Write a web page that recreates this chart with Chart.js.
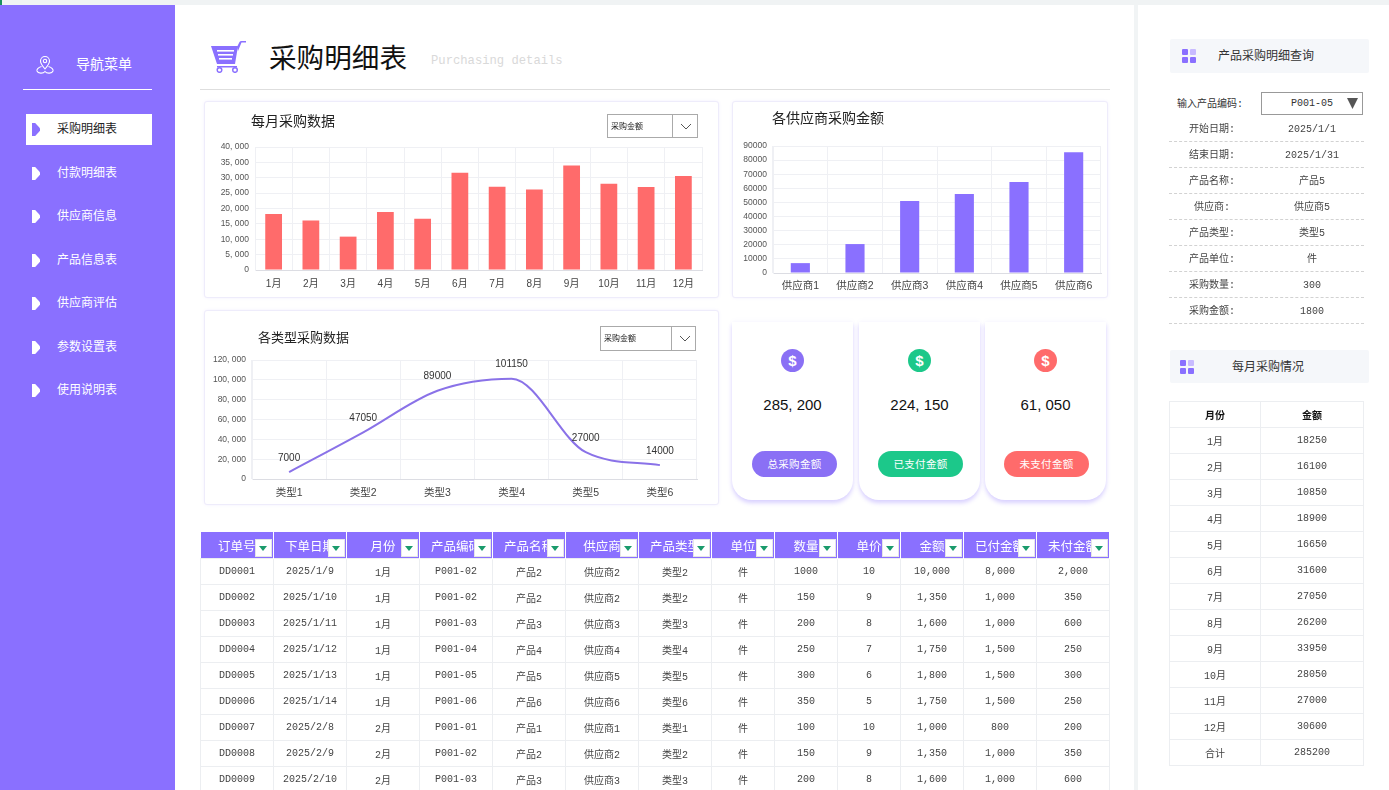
<!DOCTYPE html>
<html lang="zh">
<head>
<meta charset="utf-8">
<title>采购明细表</title>
<script src="https://cdn.jsdelivr.net/npm/chart.js@4"></script>
<style>
html, body { margin: 0; padding: 0; width: 1389px; height: 790px; overflow: hidden; background: #fff; }
body { position: relative; font-family: "Liberation Sans", "Noto Sans CJK SC", sans-serif; color: #222; }
.abs, .card, .stat, .pill, .nav, .dd, .ph, .qrow { position: absolute; }
.topstrip { left: 0; top: 0; width: 1389px; height: 5px; background: #f0f3f4; }
.mark { left: 0; top: 0; width: 2px; height: 7px; background: #1a8f5f; }
.sidebar { left: 0; top: 5px; width: 175px; height: 785px; background: #8a70ff; }
.vstrip { left: 1134px; top: 5px; width: 4px; height: 785px; background: #f1f4f5; }
.nav { left: 26px; width: 126px; height: 31px; line-height: 31px; font-size: 12px; color: #fff; text-indent: 31px; }
.nav.on { background: #fff; color: #222; }
.nav i { position: absolute; left: 6px; top: 9px; width: 8px; height: 13px; background: #fff; clip-path: polygon(0 0, 40% 0, 100% 40%, 100% 60%, 40% 100%, 0 100%); }
.nav.on i { background: #8a70ff; }
.card { background: #fff; border: 1px solid #eeecfb; border-radius: 3px; box-sizing: border-box; box-shadow: 0 0 3px rgba(138,112,255,.10); }
.card canvas { position: absolute; left: 0; top: 0; }
.ctitle { position: absolute; font-size: 14px; color: #222; white-space: nowrap; }
.dd { box-sizing: border-box; border: 1px solid #aaa; background: #fff; font-size: 8px; color: #222; }
.dd span { position: absolute; left: 3px; top: 0; line-height: 23px; }
.dd b { position: absolute; top: 0; bottom: 0; width: 0; border-left: 1px solid #aaa; }
.dd svg { position: absolute; top: 8px; }
.stat { top: 322px; width: 121px; height: 178px; background: #fff; border-radius: 0 0 20px 20px; box-shadow: 0 3px 4px rgba(138,112,255,.32), 0 -2px 4px rgba(138,112,255,.03); }
.stat .coin { position: absolute; left: 49px; top: 27px; width: 23px; height: 23px; border-radius: 50%; color: #fff; font: bold 15px/23px "Liberation Sans"; text-align: center; }
.stat .num { position: absolute; left: 0; width: 121px; top: 74px; text-align: center; font-size: 15px; color: #111; }
.stat .pill { top: 129px; width: 85px; height: 26px; line-height: 26px; border-radius: 13px; color: #fff; font-size: 10.5px; text-align: center; letter-spacing: .3px; }
table { border-collapse: collapse; table-layout: fixed; will-change: transform; }
#detail { position: absolute; left: 200px; top: 532px; width: 909px; font: 10px "Liberation Mono", "Noto Sans CJK SC", monospace; color: #444; }
#detail th { position: relative; height: 26px; padding: 0; background: #8a70ff; color: #fff; font: normal 12.5px "Noto Sans CJK SC", sans-serif; border-right: 1px solid #fff; overflow: hidden; white-space: nowrap; }
#detail th u { position: absolute; right: 1px; top: 7px; width: 17px; height: 18px; background: #fff; border: 1px solid #e6e6e6; box-sizing: border-box; text-decoration: none; }
#detail th u:after { content: ""; position: absolute; left: 3px; top: 6px; border: 4.5px solid transparent; border-top: 5px solid #1a9b6c; border-bottom: 0; }
#detail td { height: 25px; padding: 0; text-align: center; border: 1px solid #eceef1; white-space: nowrap; }
.ph { left: 1170px; width: 199px; height: 34px; line-height: 34px; background: #f5f7fa; font-size: 12px; color: #333; border-radius: 2px; }
.ph span { position: absolute; top: 0; white-space: nowrap; }
.ph svg { position: absolute; top: 10px; }
.qrow { left: 1169px; width: 195px; height: 26px; border-bottom: 1px dashed #d2d2d2; box-sizing: border-box; font: 10px/28px "Liberation Mono", "Noto Sans CJK SC", monospace; color: #444; will-change: transform; }
.qrow span { position: absolute; top: 0; transform: translateX(-50%); white-space: nowrap; }
#months { position: absolute; left: 1169px; top: 401px; width: 194px; font: 10px "Liberation Mono", "Noto Sans CJK SC", monospace; color: #444; }
#months td, #months th { height: 25px; padding: 0; text-align: center; border: 1px solid #eceef1; }
#months th { font-weight: bold; color: #111; }
</style>
</head>
<body>
<div class="abs topstrip"></div>
<div class="abs mark"></div>
<div class="abs sidebar"></div>
<div class="abs vstrip"></div>

<svg class="abs" style="left:35px;top:55px" width="20" height="20" viewBox="0 0 20 20" fill="none" stroke="#fff" stroke-width="1.1">
  <path d="M10 14 C7 10.5 5.5 8.5 5.5 6 A4.5 4.5 0 0 1 14.5 6 C14.5 8.5 13 10.5 10 14 Z"/>
  <circle cx="10" cy="6" r="1.7"/>
  <path d="M6.5 11.5 C3 12.5 1.5 14.5 2 16 C3 18.5 8 19 10 16.5 C12 19 17 18.5 18 16 C18.5 14.5 17 12.5 13.5 11.5"/>
</svg>
<div class="abs" style="left:76px;top:55px;font-size:14px;color:#fff;line-height:19px">导航菜单</div>
<div class="abs" style="left:23px;top:89px;width:129px;height:1px;background:#fff"></div>
<div id="navList"></div>

<svg class="abs" style="left:211px;top:40px" width="36" height="33" viewBox="0 0 36 33" fill="#8a70ff">
  <path d="M0 6 H27 L24 24 H6 Z"/>
  <path d="M26 7 L28.5 2 Q29 1 30.5 1 H35 V2.6 H30.5 L27 11 Z"/>
  <rect x="6" y="10" width="17" height="1.6" fill="#fff"/><rect x="7" y="14" width="15" height="1.6" fill="#fff"/><rect x="8" y="18" width="13" height="1.6" fill="#fff"/>
  <rect x="6" y="26" width="20" height="1.5"/>
  <circle cx="8.5" cy="30" r="2.3" fill="#fff" stroke="#8a70ff" stroke-width="1.5"/><circle cx="24" cy="30" r="2.3" fill="#fff" stroke="#8a70ff" stroke-width="1.5"/>
</svg>
<div class="abs" style="left:269px;top:39px;font-size:27.6px;line-height:40px;color:#111">采购明细表</div>
<div class="abs" style="left:431px;top:53px;font:12.2px/16px 'Liberation Mono',monospace;color:#d9d9d9">Purchasing details</div>
<div class="abs" style="left:200px;top:89px;width:910px;height:1px;background:#dedede"></div>

<div class="card" style="left:204px;top:101px;width:515px;height:197px">
  <canvas id="monthChart"></canvas>
  <div class="ctitle" style="left:46px;top:8px">每月采购数据</div>
</div>
<div class="dd" style="left:607px;top:114px;width:91px;height:24px"><span>采购金额</span><b style="left:64px"></b>
  <svg style="left:72px" width="12" height="8" viewBox="0 0 12 8" fill="none" stroke="#555"><path d="M1 1 L6 6 L11 1"/></svg></div>

<div class="card" style="left:732px;top:101px;width:376px;height:197px">
  <canvas id="supplierChart"></canvas>
  <div class="ctitle" style="left:39px;top:5px">各供应商采购金额</div>
</div>

<div class="card" style="left:204px;top:310px;width:515px;height:195px">
  <canvas id="typeChart"></canvas>
  <div class="ctitle" style="left:53px;top:16px;font-size:13px">各类型采购数据</div>
</div>
<div class="dd" style="left:600px;top:326px;width:96px;height:25px"><span>采购金额</span><b style="left:70px"></b>
  <svg style="left:78px" width="12" height="8" viewBox="0 0 12 8" fill="none" stroke="#555"><path d="M1 1 L6 6 L11 1"/></svg></div>

<div id="stats"></div>

<table id="detail"></table>

<div class="ph" style="top:39px"><svg style="left:12px" width="14" height="14"><rect width="6" height="6" rx="1" fill="#8a70ff"/><rect x="8" width="6" height="6" rx="1" fill="#c8bbff"/><rect y="8" width="6" height="6" rx="1" fill="#8a70ff"/><rect x="8" y="8" width="6" height="6" rx="1" fill="#8a70ff"/></svg><span style="left:48px">产品采购明细查询</span></div>
<div class="abs" style="left:1177px;top:98px;font:10px/14px 'Liberation Mono','Noto Sans CJK SC',monospace;color:#333">输入产品编码:</div>
<div class="abs" style="left:1261px;top:92px;width:102px;height:23px;box-sizing:border-box;border:1px solid #999;font:10px/21px 'Liberation Mono',monospace;color:#333;text-indent:29px">P001-05
  <svg class="abs" style="left:85px;top:5px" width="11" height="11"><path d="M0 0 H11 L5.5 11 Z" fill="#555"/></svg></div>
<div id="query"></div>

<div class="ph" style="top:350px;height:33px"><svg style="left:10px" width="14" height="14"><rect width="6" height="6" rx="1" fill="#8a70ff"/><rect x="8" width="6" height="6" rx="1" fill="#c8bbff"/><rect y="8" width="6" height="6" rx="1" fill="#8a70ff"/><rect x="8" y="8" width="6" height="6" rx="1" fill="#8a70ff"/></svg><span style="left:62px">每月采购情况</span></div>
<table id="months"></table>

<script>
const navItems = ['采购明细表', '付款明细表', '供应商信息', '产品信息表', '供应商评估', '参数设置表', '使用说明表'];
const navTops = [114, 158, 201, 245, 288, 332, 375];

// 每月采购数据
const months = ['1月', '2月', '3月', '4月', '5月', '6月', '7月', '8月', '9月', '10月', '11月', '12月'];
const monthValues = [18250, 16100, 10850, 18900, 16650, 31600, 27050, 26200, 33950, 28050, 27000, 30600];
const monthTicks = ['0', '5, 000', '10, 000', '15, 000', '20, 000', '25, 000', '30, 000', '35, 000', '40, 000'];

// 各供应商采购金额
const suppliers = ['供应商1', '供应商2', '供应商3', '供应商4', '供应商5', '供应商6'];
const supplierValues = [7000, 20500, 51000, 56000, 64500, 85500];
const supplierTicks = ['0', '10000', '20000', '30000', '40000', '50000', '60000', '70000', '80000', '90000'];

// 各类型采购数据
const types = ['类型1', '类型2', '类型3', '类型4', '类型5', '类型6'];
const typeValues = [7000, 47050, 89000, 101150, 27000, 14000];
const typeTicks = ['0', '20, 000', '40, 000', '60, 000', '80, 000', '100, 000', '120, 000'];

const statValues = ['285, 200', '224, 150', '61, 050'];
const statNames = ['总采购金额', '已支付金额', '未支付金额'];
const statColors = ['#8a70f5', '#1cc88a', '#ff6b6b'];
const statLefts = [732, 859, 985];
const pillLefts = [20, 19, 19];

const detailHead = ['订单号', '下单日期', '月份', '产品编码', '产品名称', '供应商', '产品类型', '单位', '数量', '单价', '金额', '已付金额', '未付金额'];
const detailWidths = [73, 73, 73, 73, 73, 73, 73, 63, 63, 63, 63, 73, 73];
const orderNos = ['DD0001', 'DD0002', 'DD0003', 'DD0004', 'DD0005', 'DD0006', 'DD0007', 'DD0008', 'DD0009'];
const orderDates = ['2025/1/9', '2025/1/10', '2025/1/11', '2025/1/12', '2025/1/13', '2025/1/14', '2025/2/8', '2025/2/9', '2025/2/10'];
const orderMonths = ['1月', '1月', '1月', '1月', '1月', '1月', '2月', '2月', '2月'];
const orderProducts = [2, 2, 3, 4, 5, 6, 1, 2, 3];
const orderQty = ['1000', '150', '200', '250', '300', '350', '100', '150', '200'];
const orderPrice = ['10', '9', '8', '7', '6', '5', '10', '9', '8'];
const orderAmount = ['10,000', '1,350', '1,600', '1,750', '1,800', '1,750', '1,000', '1,350', '1,600'];
const orderPaid = ['8,000', '1,000', '1,000', '1,500', '1,500', '1,500', '800', '1,000', '1,000'];
const orderUnpaid = ['2,000', '350', '600', '250', '300', '250', '200', '350', '600'];

const queryLabels = ['开始日期:', '结束日期:', '产品名称:', '供应商:', '产品类型:', '产品单位:', '采购数量:', '采购金额:'];
const queryValues = ['2025/1/1', '2025/1/31', '产品5', '供应商5', '类型5', '件', '300', '1800'];

const gridColor = '#eff0f4';
const tickFont = { family: '"Liberation Sans", "Noto Sans CJK SC"', size: 8.5 };
const catFont = { family: '"Liberation Sans", "Noto Sans CJK SC"', size: 10 };

// 固定坐标轴占位, 让绘图区和原图对齐
function axes(yWidth, xHeight, yOpts, catSize, catPad) {
    return {
        x: {
            offset: true,
            grid: { color: gridColor, offset: true, tickLength: 0, drawTicks: false },
            border: { color: '#dcdde3' },
            ticks: { color: '#444', font: { ...catFont, size: catSize }, padding: catPad, autoSkip: false, maxRotation: 0 },
            afterFit: s => { s.height = xHeight; }
        },
        y: Object.assign({
            beginAtZero: true,
            grid: { color: gridColor, tickLength: 0, drawTicks: false },
            border: { color: gridColor },
            afterFit: s => { s.width = yWidth; }
        }, yOpts)
    };
}

function baseOptions(padding, scales) {
    return {
        responsive: false,
        animation: false,
        layout: { padding },
        plugins: { legend: { display: false }, tooltip: { enabled: false } },
        scales
    };
}

function makeCanvas(id, w, h) {
    const el = document.getElementById(id);
    el.width = w; el.height = h;
    el.style.width = w + 'px'; el.style.height = h + 'px';
    return el;
}

// 折线上方的数值标签
const pointLabels = {
    id: 'pointLabels',
    afterDatasetsDraw(chart) {
        const ctx = chart.ctx;
        ctx.save();
        ctx.font = '10px "Liberation Sans"';
        ctx.fillStyle = '#333';
        ctx.textAlign = 'center';
        ctx.textBaseline = 'middle';
        chart.getDatasetMeta(0).data.forEach((pt, i) => {
            ctx.fillText(String(typeValues[i]), pt.x, pt.y - 14);
        });
        ctx.restore();
    }
};

function renderCharts() {
    new Chart(makeCanvas('monthChart', 513, 195), {
        type: 'bar',
        data: { labels: months, datasets: [{ data: monthValues, backgroundColor: '#ff6b6b', barPercentage: 0.45, categoryPercentage: 1 }] },
        options: baseOptions({ left: 0, right: 16, top: 45, bottom: 0 }, axes(50, 27, {
            min: 0, max: 40000,
            ticks: { stepSize: 5000, color: '#555', font: tickFont, padding: 6, callback: (v, i) => monthTicks[i] }
        }, 10, 8))
    });

    new Chart(makeCanvas('supplierChart', 374, 195), {
        type: 'bar',
        data: { labels: suppliers, datasets: [{ data: supplierValues, backgroundColor: '#8a70ff', barPercentage: 0.35, categoryPercentage: 1 }] },
        options: baseOptions({ left: 0, right: 6, top: 44, bottom: 0 }, axes(40, 24, {
            min: 0, max: 90000,
            ticks: { stepSize: 10000, color: '#555', font: tickFont, padding: 6, callback: (v, i) => supplierTicks[i] }
        }, 10.5, 7))
    });

    new Chart(makeCanvas('typeChart', 513, 193), {
        type: 'line',
        data: { labels: types, datasets: [{ data: typeValues, borderColor: '#8a72e8', borderWidth: 2, cubicInterpolationMode: 'monotone', pointRadius: 0, fill: false }] },
        options: baseOptions({ left: 0, right: 21, top: 49, bottom: 0 }, axes(47, 25, {
            min: 0, max: 120000,
            ticks: { stepSize: 20000, color: '#555', font: tickFont, padding: 6, callback: (v, i) => typeTicks[i] }
        }, 10.5, 8)),
        plugins: [pointLabels]
    });
}

function renderDom() {
    document.getElementById('navList').innerHTML = navItems.map((name, i) =>
        `<div class="nav${i === 0 ? ' on' : ''}" style="top:${navTops[i]}px"><i></i>${name}</div>`).join('');

    document.getElementById('stats').innerHTML = statNames.map((name, i) => `
        <div class="stat" style="left:${statLefts[i]}px">
            <div class="coin" style="background:${statColors[i]}">$</div>
            <div class="num">${statValues[i]}</div>
            <div class="pill" style="left:${pillLefts[i]}px;background:${statColors[i]}">${name}</div>
        </div>`).join('');

    const rows = orderNos.map((no, i) => {
        const p = orderProducts[i];
        const cells = [no, orderDates[i], orderMonths[i], 'P001-0' + p, '产品' + p, '供应商' + p, '类型' + p, '件',
            orderQty[i], orderPrice[i], orderAmount[i], orderPaid[i], orderUnpaid[i]];
        return '<tr>' + cells.map(c => `<td>${c}</td>`).join('') + '</tr>';
    }).join('');
    document.getElementById('detail').innerHTML =
        '<colgroup>' + detailWidths.map(w => `<col style="width:${w}px">`).join('') + '</colgroup>' +
        '<tr>' + detailHead.map(h => `<th>${h}<u></u></th>`).join('') + '</tr>' + rows;

    document.getElementById('query').innerHTML = queryLabels.map((label, i) =>
        `<div class="qrow" style="top:${116 + i * 26}px"><span style="left:43px">${label}</span><span style="left:143px">${queryValues[i]}</span></div>`).join('');

    document.getElementById('months').innerHTML =
        '<colgroup><col style="width:91px"><col style="width:103px"></colgroup><tr><th>月份</th><th>金额</th></tr>' +
        months.map((m, i) => `<tr><td>${m}</td><td>${monthValues[i]}</td></tr>`).join('') +
        '<tr><td>合计</td><td>285200</td></tr>';
}

renderDom();
renderCharts();
</script>
</body>
</html>
